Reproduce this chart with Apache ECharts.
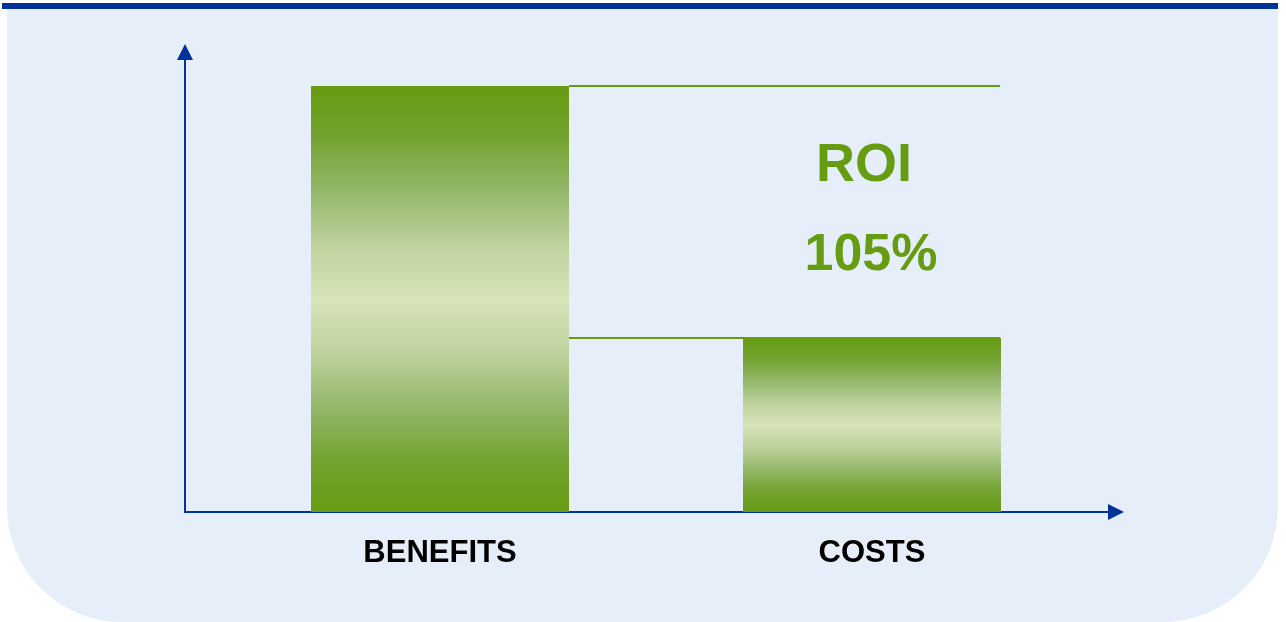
<!DOCTYPE html>
<html>
<head>
<meta charset="utf-8">
<script src="https://cdn.jsdelivr.net/npm/echarts@6/dist/echarts.min.js"></script>
<style>
  html, body { margin: 0; padding: 0; background: #ffffff; }
  #main { width: 1286px; height: 622px; }
</style>
</head>
<body>
<div id="main"></div>
<script>
// data
var categories = ['BENEFITS', 'COSTS'];
var barValues = [92.6, 37.8];
var roiTitle = 'ROI';
var roiValue = '105%';

var green = '#669c10';
var axisBlue = '#003399';

var chart = echarts.init(document.getElementById('main'));

// dark green at the ends, pale in the middle
var barGradient = new echarts.graphic.LinearGradient(0, 0, 0, 1, [
  {offset: 0, color: '#679c12'},
  {offset: 0.12, color: '#74a22f'},
  {offset: 0.25, color: '#95b86c'},
  {offset: 0.38, color: '#bfd39f'},
  {offset: 0.5, color: '#d8e4b9'},
  {offset: 0.62, color: '#bfd39f'},
  {offset: 0.75, color: '#95b86c'},
  {offset: 0.88, color: '#74a22f'},
  {offset: 1, color: '#679c12'}
]);

var option = {
  animation: false,
  backgroundColor: '#ffffff',
  graphic: [
    // panel + top rule
    {type: 'rect', z: -10, shape: {x: 7, y: 9, width: 1271, height: 613, r: [0, 0, 115, 115]}, style: {fill: '#e6eefa'}},
    {type: 'rect', z: -9, shape: {x: 2, y: 3, width: 1276, height: 6}, style: {fill: axisBlue}},
    {type: 'text', x: 864, y: 166, style: {text: roiTitle, fill: green, font: 'bold 54px "Liberation Sans", Arial, sans-serif', textAlign: 'center', textVerticalAlign: 'middle'}},
    {type: 'text', x: 871, y: 256, style: {text: roiValue, fill: green, font: 'bold 52px "Liberation Sans", Arial, sans-serif', textAlign: 'center', textVerticalAlign: 'middle'}}
  ],
  grid: [
    {left: 185, right: 170, top: 52, bottom: 110},   // axis frame
    {left: 224, right: 198, top: 52, bottom: 110}    // bars
  ],
  xAxis: [
    {
      gridIndex: 0, type: 'value', min: 0, max: 1,
      axisLine: {show: true, symbol: ['none', 'triangle'], symbolSize: [16, 16], lineStyle: {color: axisBlue, width: 2}},
      axisTick: {show: false}, axisLabel: {show: false}, splitLine: {show: false}
    },
    {
      gridIndex: 1, type: 'category', data: categories,
      axisLine: {show: false}, axisTick: {show: false},
      axisLabel: {margin: 26, color: '#000', fontSize: 31, fontWeight: 'bold', fontFamily: '"Liberation Sans", Arial, sans-serif'}
    }
  ],
  yAxis: [
    {
      gridIndex: 0, type: 'value', min: 0, max: 1,
      axisLine: {show: true, symbol: ['none', 'triangle'], symbolSize: [16, 16], lineStyle: {color: axisBlue, width: 2}},
      axisTick: {show: false}, axisLabel: {show: false}, splitLine: {show: false}
    },
    {
      gridIndex: 1, type: 'value', min: 0, max: 100, show: false
    }
  ],
  series: [
    {
      type: 'bar',
      xAxisIndex: 1, yAxisIndex: 1,
      data: barValues,
      barWidth: 258,
      itemStyle: {color: barGradient}
    },
    {
      // guide lines from the benefits bar edge across to the costs bar edge
      type: 'custom',
      xAxisIndex: 1, yAxisIndex: 1,
      data: barValues.map(function (v) { return [0, v]; }),
      renderItem: function (params, api) {
        var v = api.value(1);
        var p0 = api.coord([0, v]);
        var p1 = api.coord([1, v]);
        return {
          type: 'line',
          shape: {x1: p0[0] + 129, y1: p0[1], x2: p1[0] + 128, y2: p1[1]},
          style: {stroke: green, lineWidth: 2}
        };
      },
      z: 3
    }
  ]
};

chart.setOption(option);
</script>
</body>
</html>
